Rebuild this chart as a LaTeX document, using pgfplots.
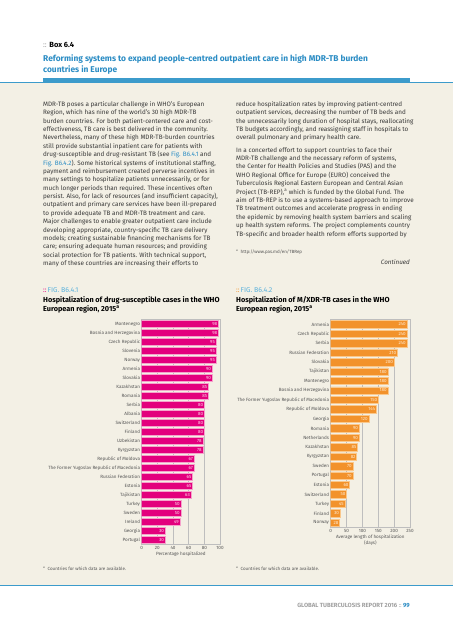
\documentclass[border=0pt]{standalone}
\usepackage{fontspec}
\setmainfont{Fira Sans}
\usepackage{pgfplots}
\pgfplotsset{compat=1.18}
\definecolor{beige}{HTML}{F3F0E5}
\definecolor{boxblue}{HTML}{3C9BCB}
\definecolor{titleblue}{HTML}{2A8CC4}
\definecolor{figblue}{HTML}{5BB2DC}
\definecolor{bodytext}{HTML}{383838}
\definecolor{labelgray}{HTML}{555555}
\definecolor{gridgray}{HTML}{BEBEBE}
\definecolor{barmag}{HTML}{E3007D}
\definecolor{edgemag}{HTML}{F5A3CB}
\definecolor{txtmag}{HTML}{FCD9EA}
\definecolor{barora}{HTML}{F2922B}
\definecolor{edgeora}{HTML}{FAC88C}
\definecolor{txtora}{HTML}{FFEBD2}
\definecolor{footgray}{HTML}{A0A0A0}
\newcommand{\fs}[2]{\fontsize{#1bp}{#2bp}\selectfont}
\begin{document}
\begin{tikzpicture}[x=1bp,y=1bp]
\path[use as bounding box] (0,0) rectangle (453,640);
\fill[white] (0,0) rectangle (453,640);
\fill[beige] (0,55) rectangle (453,558);
\draw[boxblue, line width=0.8bp] (0,558) -- (453,558);
\fill[boxblue] (43,558) rectangle (410,561.5);
\draw[boxblue, line width=0.8bp] (0,55) -- (453,55);
% header
\node[anchor=base west, inner sep=0, font=\fs{7.5}{9}] at (43,592) {{\color{footgray}::} \textbf{Box 6.4}};
\node[anchor=base west, inner sep=0, font=\fs{8.4}{10}\bfseries, text=titleblue] at (43,578.5) {Reforming systems to expand people-centred outpatient care in high MDR-TB burden};
\node[anchor=base west, inner sep=0, font=\fs{8.4}{10}\bfseries, text=titleblue] at (43,567.5) {countries in Europe};
% left column
\foreach \t [count=\i] in {
{MDR-TB poses a particular challenge in WHO’s European},
{Region, which has nine of the world’s 30 high MDR-TB},
{burden countries. For both patient-centered care and cost-},
{effectiveness, TB care is best delivered in the community.},
{Nevertheless, many of these high MDR-TB-burden countries},
{still provide substantial inpatient care for patients with},
{drug-susceptible and drug-resistant TB (see \textcolor{titleblue}{Fig. B6.4.1} and},
{\textcolor{titleblue}{Fig. B6.4.2}). Some historical systems of institutional staffing,},
{payment and reimbursement created perverse incentives in},
{many settings to hospitalize patients unnecessarily, or for},
{much longer periods than required. These incentives often},
{persist. Also, for lack of resources (and insufficient capacity),},
{outpatient and primary care services have been ill-prepared},
{to provide adequate TB and MDR-TB treatment and care.},
{Major challenges to enable greater outpatient care include},
{developing appropriate, country-specific TB care delivery},
{models; creating sustainable financing mechanisms for TB},
{care; ensuring adequate human resources; and providing},
{social protection for TB patients. With technical support,},
{many of these countries are increasing their efforts to}}
\node[anchor=base west, inner sep=0, font=\fs{6.35}{8}, text=bodytext] at (43,{533.5-8.37*(\i-1)}) {\t};
% right column
\foreach \t [count=\i] in {
{reduce hospitalization rates by improving patient-centred},
{outpatient services, decreasing the number of TB beds and},
{the unnecessarily long duration of hospital stays, reallocating},
{TB budgets accordingly, and reassigning staff in hospitals to},
{overall pulmonary and primary health care.}}
\node[anchor=base west, inner sep=0, font=\fs{6.35}{8}, text=bodytext] at (236,{533.5-8.37*(\i-1)}) {\t};
\foreach \t [count=\i] in {
{In a concerted effort to support countries to face their},
{MDR-TB challenge and the necessary reform of systems,},
{the Center for Health Policies and Studies (PAS) and the},
{WHO Regional Office for Europe (EURO) conceived the},
{Tuberculosis Regional Eastern European and Central Asian},
{Project (TB-REP),\textsuperscript{a} which is funded by the Global Fund. The},
{aim of TB-REP is to use a systems-based approach to improve},
{TB treatment outcomes and accelerate progress in ending},
{the epidemic by removing health system barriers and scaling},
{up health system reforms. The project complements country},
{TB-specific and broader health reform efforts supported by}}
\node[anchor=base west, inner sep=0, font=\fs{6.35}{8}, text=bodytext] at (236,{487.8-8.4*(\i-1)}) {\t};
\node[anchor=base west, inner sep=0, font=\fs{4.5}{6}, text=labelgray] at (236,386.5) {\textsuperscript{a}\enspace http://www.pas.md/en/TBRep};
\node[anchor=base east, inner sep=0, font=\fs{6.3}{8}\itshape, text=bodytext] at (410,375) {Continued};
% figure headers
\node[anchor=base west, inner sep=0, font=\fs{7}{8}] at (43,347) {{\color{barmag}::}\,{\color{figblue}FIG. B6.4.1}};
\node[anchor=base west, inner sep=0, font=\fs{7.3}{8}\bfseries, text=black] at (43,337.2) {Hospitalization of drug-susceptible cases in the WHO};
\node[anchor=base west, inner sep=0, font=\fs{7.3}{8}\bfseries, text=black] at (43,328.8) {European region, 2015\textsuperscript{a}};
\node[anchor=base west, inner sep=0, font=\fs{7}{8}] at (236,347) {{\color{barora}::}\,{\color{figblue}FIG. B6.4.2}};
\node[anchor=base west, inner sep=0, font=\fs{7.3}{8}\bfseries, text=black] at (236,337.2) {Hospitalization of M/XDR-TB cases in the WHO};
\node[anchor=base west, inner sep=0, font=\fs{7.3}{8}\bfseries, text=black] at (236,328.8) {European region, 2015\textsuperscript{a}};
% footnotes
\node[anchor=base west, inner sep=0, font=\fs{4.5}{6}, text=labelgray] at (43,69.5) {\textsuperscript{a}\enspace Countries for which data are available.};
\node[anchor=base west, inner sep=0, font=\fs{4.5}{6}, text=labelgray] at (236,69.5) {\textsuperscript{a}\enspace Countries for which data are available.};
% footer
\node[anchor=base east, inner sep=0, font=\fs{6}{7}\bfseries] at (410,32) {{\color{footgray}GLOBAL TUBERCULOSIS REPORT 2016}\ {\color{footgray!60}::}\ {\color{titleblue}99}};
% ---------- Fig 1 ----------
\begin{axis}[
  at={(141.7bp,320.5bp)}, anchor=north west,
  scale only axis, width=78.3bp, height=225bp,
  xbar, bar width=7bp,
  xmin=0, xmax=100, ymin=-0.5, ymax=24.5, y dir=reverse,
  xtick={0,20,...,100}, ytick={0,...,24},
  yticklabels={Montenegro,Bosnia and Herzegovina,Czech Republic,Slovenia,Norway,Armenia,Slovakia,Kazakhstan,Romania,Serbia,Albania,Switzerland,Finland,Uzbekistan,Kyrgyzstan,Republic of Moldova,The Former Yugoslav Republic of Macedonia,Russian Federation,Estonia,Tajikistan,Turkey,Sweden,Ireland,Georgia,Portugal},
  major tick length=0,
  axis line style={draw=gridgray, line width=0.6bp},
  xmajorgrids, grid style={draw=gridgray, line width=0.6bp},
  /pgf/number format/assume math mode=true,
  tick label style={font=\fs{4.6}{5}, text=labelgray},
  yticklabel style={inner sep=1.5bp},
  xticklabel style={inner sep=1.2bp},
  xlabel={Percentage hospitalized},
  xlabel style={font=\fs{4.6}{5}, text=labelgray, inner sep=1bp},
]
\addplot[fill=barmag, draw=edgemag, line width=0.5bp, point meta=x,
  nodes near coords, nodes near coords style={anchor=east, font=\fs{4.5}{5}, text=txtmag, inner sep=1bp}]
coordinates {(98,0) (98,1) (95,2) (95,3) (95,4) (90,5) (90,6) (85,7) (85,8) (80,9) (80,10) (80,11) (80,12) (78,13) (78,14) (67,15) (67,16) (65,17) (65,18) (63,19) (50,20) (50,21) (49,22) (30,23) (30,24)};
\end{axis}
% ---------- Fig 2 ----------
\begin{axis}[
  at={(330.7bp,320.4bp)}, anchor=north west,
  scale only axis, width=79.3bp, height=207.9bp,
  xbar, bar width=7.4bp,
  xmin=0, xmax=250, ymin=-0.5, ymax=21.5, y dir=reverse,
  xtick={0,50,...,250}, ytick={0,...,21},
  yticklabels={Armenia,Czech Republic,Serbia,Russian Federation,Slovakia,Tajikistan,Montenegro,Bosnia and Herzegovina,The Former Yugoslav Republic of Macedonia,Republic of Moldova,Georgia,Romania,Netherlands,Kazakhstan,Kyrgyzstan,Sweden,Portugal,Estonia,Switzerland,Turkey,Finland,Norway},
  major tick length=0,
  axis line style={draw=gridgray, line width=0.6bp},
  xmajorgrids, grid style={draw=gridgray, line width=0.6bp},
  /pgf/number format/assume math mode=true,
  tick label style={font=\fs{4.6}{5}, text=labelgray},
  yticklabel style={inner sep=1.5bp},
  xticklabel style={inner sep=1.2bp},
  xlabel={Average length of hospitalization\\(days)},
  xlabel style={font=\fs{4.6}{6.3}, text=labelgray, align=center, inner sep=1bp},
]
\addplot[fill=barora, draw=edgeora, line width=0.5bp, point meta=x,
  nodes near coords, nodes near coords style={anchor=east, font=\fs{4.5}{5}, text=txtora, inner sep=1bp}]
coordinates {(240,0) (240,1) (240,2) (210,3) (200,4) (180,5) (180,6) (180,7) (150,8) (144,9) (120,10) (90,11) (90,12) (85,13) (82,14) (70,15) (70,16) (60,17) (50,18) (45,19) (30,20) (28,21)};
\end{axis}
\end{tikzpicture}
\end{document}
